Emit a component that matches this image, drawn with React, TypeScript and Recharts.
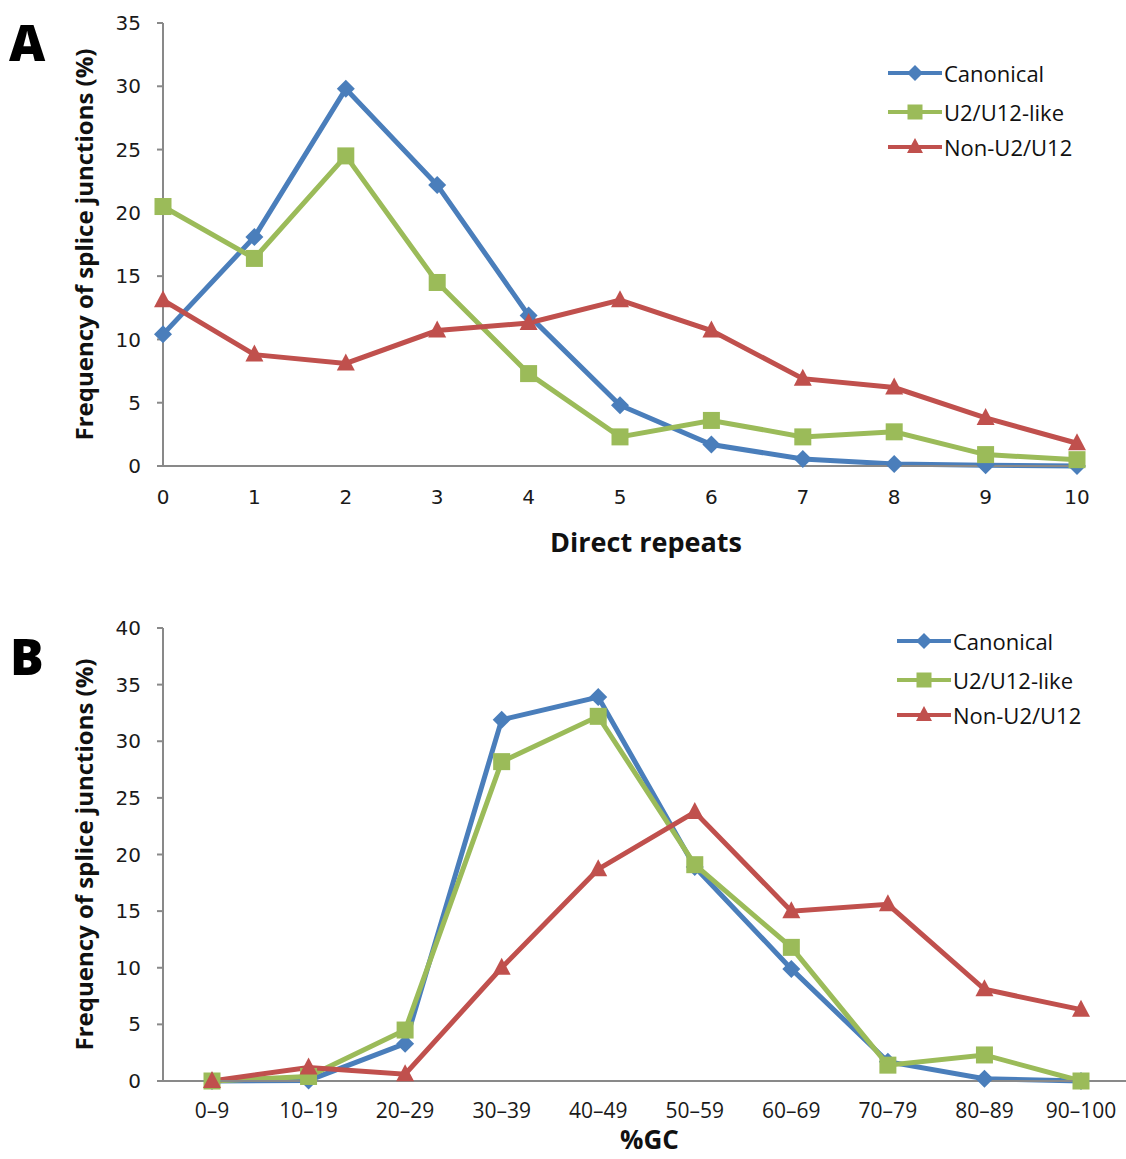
import { LineChart, Line, XAxis, YAxis, Legend } from 'recharts'

// panel A: direct repeats
const repeatCats = ['0', '1', '2', '3', '4', '5', '6', '7', '8', '9', '10']
const canonicalA = [10.4, 18.1, 29.8, 22.2, 11.9, 4.8, 1.7, 0.55, 0.15, 0.05, 0]
const u2u12A = [20.5, 16.4, 24.5, 14.5, 7.3, 2.3, 3.6, 2.3, 2.7, 0.9, 0.5]
const nonU2A = [13.1, 8.8, 8.1, 10.7, 11.3, 13.1, 10.7, 6.9, 6.2, 3.8, 1.8]
const ticksA = [0, 5, 10, 15, 20, 25, 30, 35]

// panel B: %GC
const gcCats = ['0–9', '10–19', '20–29', '30–39', '40–49', '50–59', '60–69', '70–79', '80–89', '90–100']
const canonicalB = [0, 0.05, 3.3, 31.9, 33.9, 18.9, 9.9, 1.7, 0.2, 0]
const u2u12B = [0, 0.4, 4.5, 28.2, 32.2, 19.1, 11.8, 1.4, 2.3, 0]
const nonU2B = [0, 1.2, 0.6, 10, 18.7, 23.75, 15, 15.6, 8.1, 6.3]
const ticksB = [0, 5, 10, 15, 20, 25, 30, 35, 40]

const seriesNames = ['Canonical', 'U2/U12-like', 'Non-U2/U12']

const dataA = repeatCats.map((c, i) => ({
  cat: c,
  canonical: canonicalA[i],
  u2u12: u2u12A[i],
  non: nonU2A[i]
}))

const dataB = gcCats.map((c, i) => ({
  cat: c,
  canonical: canonicalB[i],
  u2u12: u2u12B[i],
  non: nonU2B[i]
}))

const BLUE = '#4A7EBB'
const GREEN = '#9BBB59'
const RED = '#C0504D'
const AXIS = '#898989'

const tickFont = { fontSize: 20, fill: '#1a1a1a', fontFamily: 'DejaVu Sans' }
const catFont = { fontSize: 21, fill: '#1a1a1a', fontFamily: '"Open Sans", sans-serif' }
const titleFont = { fontFamily: '"Open Sans", sans-serif', fontWeight: 700, fill: '#111' }

function marker(shape: string, cx: number, cy: number, color: string, s: number, key?: string) {
  if (shape === 'diamond') {
    return (
      <path key={key} d={`M${cx},${cy - s}L${cx + s},${cy}L${cx},${cy + s}L${cx - s},${cy}Z`} fill={color} />
    )
  }
  if (shape === 'square') {
    const h = s - 0.5
    return <rect key={key} x={cx - h} y={cy - h} width={2 * h} height={2 * h} fill={color} />
  }
  return (
    <path key={key} d={`M${cx},${cy - s - 1}L${cx + s},${cy + s - 2}L${cx - s},${cy + s - 2}Z`} fill={color} />
  )
}

const dotOf = (shape: string, color: string) =>
  // eslint-disable-next-line @typescript-eslint/no-explicit-any
  (props: any) => marker(shape, props.cx, props.cy, color, 9, `${shape}-${props.index}`)

const shapes = ['diamond', 'square', 'triangle']
const colors = [BLUE, GREEN, RED]

function LegendBox({ gap }: { gap: number[] }) {
  return (
    <div style={{ position: 'relative' }}>
      {seriesNames.map((n, i) => (
        <div
          key={n}
          style={{ position: 'absolute', top: gap[i], left: 0, display: 'flex', alignItems: 'center', whiteSpace: 'nowrap' }}
        >
          <svg width={56} height={20}>
            <line x1={0} y1={10} x2={54} y2={10} stroke={colors[i]} strokeWidth={4} />
            {marker(shapes[i], 27, 10, colors[i], 8)}
          </svg>
          <span style={{ fontFamily: '"Open Sans", sans-serif', fontSize: 22, color: '#111' }}>
            {n}
          </span>
        </div>
      ))}
    </div>
  )
}

export default function App() {
  const lines = [
    { key: 'canonical', i: 0 },
    { key: 'u2u12', i: 1 },
    { key: 'non', i: 2 }
  ]
  return (
    <div style={{ position: 'absolute', left: 0, top: 0, width: 1126, height: 1159, background: '#fff' }}>
      <div style={{ position: 'absolute', left: 9, top: 12, fontFamily: '"Open Sans", sans-serif', fontWeight: 800, fontSize: 50, lineHeight: '60px' }}>
        A
      </div>
      <div style={{ position: 'absolute', left: 10, top: 626, fontFamily: '"Open Sans", sans-serif', fontWeight: 800, fontSize: 50, lineHeight: '60px' }}>
        B
      </div>

      <div style={{ position: 'absolute', left: 0, top: 0 }}>
        <LineChart width={1126} height={580} data={dataA} margin={{ top: 23, right: 49, left: 0, bottom: 24 }}>
          <XAxis
            dataKey="cat"
            height={90}
            tick={tickFont}
            tickLine={false}
            tickMargin={18}
            axisLine={{ stroke: AXIS, strokeWidth: 2 }}
            label={{ value: 'Direct repeats', position: 'insideBottom', offset: 4, dx: 26, style: { ...titleFont, fontSize: 27 } }}
          />
          <YAxis
            width={163}
            domain={[0, 35]}
            ticks={ticksA}
            interval={0}
            tick={tickFont}
            tickSize={6}
            tickMargin={16}
            tickLine={{ stroke: AXIS, strokeWidth: 2 }}
            axisLine={{ stroke: AXIS, strokeWidth: 2 }}
            label={{ value: 'Frequency of splice junctions (%)', angle: -90, position: 'insideLeft', offset: 84, style: { ...titleFont, fontSize: 24, textAnchor: 'middle' } }}
          />
          <Legend
            content={() => <LegendBox gap={[0, 39, 74]} />}
            wrapperStyle={{ position: 'absolute', left: 888, top: 58, width: 240 }}
          />
          {lines.map(l => (
            <Line
              key={l.key}
              dataKey={l.key}
              name={seriesNames[l.i]}
              stroke={colors[l.i]}
              strokeWidth={5}
              type="linear"
              dot={dotOf(shapes[l.i], colors[l.i])}
              activeDot={false}
              isAnimationActive={false}
            />
          ))}
        </LineChart>
      </div>

      <div style={{ position: 'absolute', left: 0, top: 580 }}>
        <LineChart width={1126} height={579} data={dataB} margin={{ top: 48, right: 0, left: 0, bottom: 0 }}>
          <XAxis
            dataKey="cat"
            height={78}
            tick={catFont}
            tickLine={false}
            tickMargin={16}
            interval={0}
            padding={{ left: 49, right: 45 }}
            axisLine={{ stroke: AXIS, strokeWidth: 2 }}
            label={{ value: '%GC', position: 'insideBottom', offset: 10, dx: 5, style: { ...titleFont, fontSize: 26 } }}
          />
          <YAxis
            width={163}
            domain={[0, 40]}
            ticks={ticksB}
            interval={0}
            tick={tickFont}
            tickSize={6}
            tickMargin={16}
            tickLine={{ stroke: AXIS, strokeWidth: 2 }}
            axisLine={{ stroke: AXIS, strokeWidth: 2 }}
            label={{ value: 'Frequency of splice junctions (%)', angle: -90, position: 'insideLeft', offset: 84, style: { ...titleFont, fontSize: 24, textAnchor: 'middle' } }}
          />
          <Legend
            content={() => <LegendBox gap={[0, 39, 74]} />}
            wrapperStyle={{ position: 'absolute', left: 897, top: 46, width: 240 }}
          />
          {lines.map(l => (
            <Line
              key={l.key}
              dataKey={l.key}
              name={seriesNames[l.i]}
              stroke={colors[l.i]}
              strokeWidth={5}
              type="linear"
              dot={dotOf(shapes[l.i], colors[l.i])}
              activeDot={false}
              isAnimationActive={false}
            />
          ))}
        </LineChart>
      </div>
    </div>
  )
}
